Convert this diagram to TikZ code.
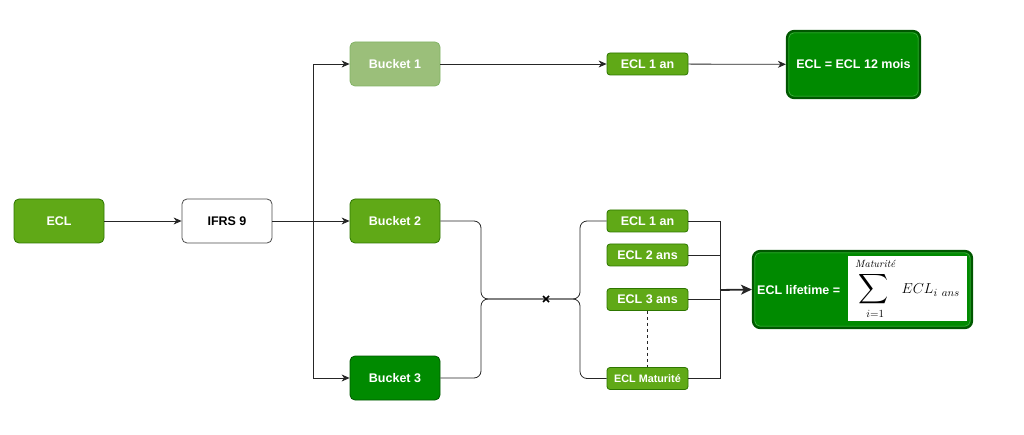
\documentclass[tikz,border=0pt]{standalone}
\usepackage{fontspec}
\usepackage{amsmath}
\usepackage{graphicx}
\setsansfont{Liberation Sans}
\usetikzlibrary{arrows.meta,calc}
\definecolor{gm}{HTML}{60A917}
\definecolor{gmd}{HTML}{2D7600}
\definecolor{gl}{HTML}{9BBF7A}
\definecolor{gld}{HTML}{82B366}
\definecolor{gd}{HTML}{008A00}
\definecolor{gdd}{HTML}{005700}
\tikzset{
  bigbox/.style={rounded corners=5pt, minimum width=90pt, minimum height=44pt, inner sep=0pt,
    font=\sffamily\bfseries\fontsize{12.5}{14}\selectfont, text=white, line width=0.8pt},
  smallbox/.style={rounded corners=3pt, minimum width=81pt, minimum height=22pt, inner sep=0pt,
    font=\sffamily\bfseries\fontsize{12.5}{14}\selectfont, text=white, line width=0.8pt, fill=gm, draw=gmd},
  resbox/.style={rounded corners=7pt, inner sep=0pt, fill=gd, draw=gdd, line width=2.2pt,
    font=\sffamily\bfseries\fontsize{12.5}{14}\selectfont, text=white},
  conn/.style={draw=black!85, line width=0.8pt},
  arr/.style={conn, -{Stealth[length=8pt,width=7pt,inset=2.5pt]}},
}
\begin{document}
\begin{tikzpicture}[x=1pt,y=-1pt]
\useasboundingbox (0,0) rectangle (1024,435);

% nodes
\node[bigbox, fill=gm, draw=gmd] (ecl) at (59,221) {ECL};
\node[bigbox, fill=white, draw=black!70, text=black] (ifrs) at (227,221) {IFRS 9};
\node[bigbox, fill=gl, draw=gld] (b1) at (395,64) {Bucket 1};
\node[bigbox, fill=gm, draw=gmd] (b2) at (395,221) {Bucket 2};
\node[bigbox, fill=gd, draw=gdd] (b3) at (395,378) {Bucket 3};

\node[smallbox] (e1t) at (647.5,64) {ECL 1 an};
\node[resbox, minimum width=133pt, minimum height=67pt] (e12) at (853.5,64.5) {ECL = ECL 12 mois};
\draw[gd!70!white, line width=0.5pt, rounded corners=5pt] ($(e12.south west)+(3,-3)$) rectangle ($(e12.north east)+(-3,3)$);

\node[smallbox] (e1b) at (647.5,221) {ECL 1 an};
\node[smallbox] (e2) at (647.5,255) {ECL 2 ans};
\node[smallbox] (e3) at (647.5,299.5) {ECL 3 ans};
\node[smallbox, font=\sffamily\bfseries\fontsize{10.8}{12}\selectfont] (em) at (647.5,378.5) {ECL Maturité};

\node[resbox, minimum width=219pt, minimum height=77pt] (lt) at (862.5,289.5) {};
\draw[gd!70!white, line width=0.5pt, rounded corners=5pt] ($(lt.south west)+(3,-3)$) rectangle ($(lt.north east)+(-3,3)$);
\node[font=\sffamily\bfseries\fontsize{12.5}{14}\selectfont, text=white, anchor=west, inner sep=0pt] (ltt) at (757,290) {ECL lifetime =};
\node[fill=white, minimum width=119pt, minimum height=65pt, inner sep=0pt, font=\fontsize{15}{17}\selectfont] (form) at (907.5,288.5)
  {$\displaystyle\mathop{\scalebox{1.45}{$\displaystyle\sum$}}\limits_{\raisebox{-3pt}{$\scriptstyle i=1$}}^{\raisebox{2pt}{$\scriptstyle\text{\itshape Maturité}$}}\; ECL_{i\ ans}$};

% coordinates
\coordinate (s) at (313,221);
\coordinate (m) at (481,299);
\coordinate (J) at (546,299);
\coordinate (f) at (580,299);
\coordinate (bus) at (720,290);

% connectors
\draw[arr] (ecl) -- (ifrs);
\draw[arr] (ifrs.east) -- (b2.west);
\draw[arr] (ifrs.east) -- (s) |- (b1.west);
\draw[arr] (ifrs.east) -- (s) |- (b3.west);
\draw[arr] (b1) -- (e1t);
\draw[arr] (e1t) -- (e12);

\draw[conn, rounded corners=7pt] (b2.east) -| (m) -- (J);
\draw[conn, rounded corners=7pt] (b3.east) -| (m) -- (J);
\draw[conn, rounded corners=7pt] (J) -- (f) |- (e1b.west);
\draw[conn, rounded corners=7pt] (J) -- (f) |- (em.west);
\draw[line width=1.6pt] ($(J)+(-3,-3)$) -- ($(J)+(3,3)$) ($(J)+(-3,3)$) -- ($(J)+(3,-3)$);

\draw[conn] (e1b.east) -| (bus);
\draw[conn] (em.east) -| (bus);
\draw[conn] (e2.east) -- (e2.east -| bus);
\draw[conn] (e3.east) -- (e3.east -| bus);
\draw[conn, line width=1.8pt, -{Stealth[length=11pt,width=10pt,inset=3pt]}] (bus) -- (lt.west);
\draw[conn, dashed, line width=0.6pt] (e3.south) -- (em.north);
\end{tikzpicture}
\end{document}
